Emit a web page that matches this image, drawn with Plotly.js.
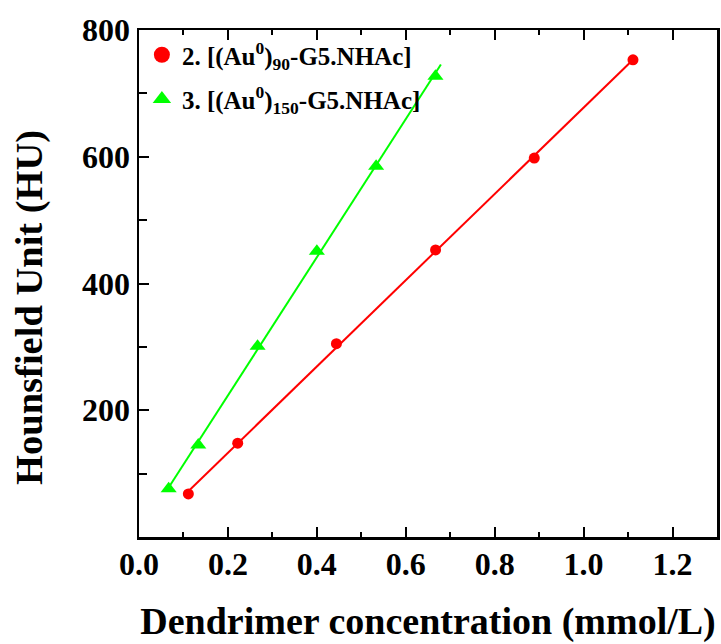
<!DOCTYPE html>
<html>
<head>
<meta charset="utf-8">
<script src="https://cdn.plot.ly/plotly-3.0.1.min.js"></script>
<style>html,body{margin:0;padding:0;background:#fff;}</style>
</head>
<body>
<div id="chart" style="width:721px;height:644px;"></div>
<script>
// Data
const seriesNames = ['2. [(Au<sup>0</sup>)<sub>90</sub>-G5.NHAc]', '3. [(Au<sup>0</sup>)<sub>150</sub>-G5.NHAc]'];
const redX = [0.111, 0.222, 0.444, 0.667, 0.889, 1.111];
const redY = [68, 148, 305, 453, 598, 753];
const greenX = [0.0667, 0.1333, 0.2667, 0.4, 0.5333, 0.6667];
const greenY = [76, 145, 301, 451, 585, 727];
const redFitRange = [0.111, 1.111];
const greenFitRange = [0.0667, 0.679];
const xTicks = [0.0, 0.2, 0.4, 0.6, 0.8, 1.0, 1.2];
const yTicks = [200, 400, 600, 800];
const xTitle = '<b>Dendrimer concentration (mmol/L)</b>';
const yTitle = '<b>Hounsfield Unit (HU)</b>';

function fit(xs, ys) {
  const n = xs.length;
  const mx = xs.reduce((a, b) => a + b, 0) / n;
  const my = ys.reduce((a, b) => a + b, 0) / n;
  let sxy = 0, sxx = 0;
  for (let i = 0; i < n; i++) { sxy += (xs[i] - mx) * (ys[i] - my); sxx += (xs[i] - mx) ** 2; }
  const b = sxy / sxx, a = my - b * mx;
  return x => a + b * x;
}
const fr = fit(redX, redY), fg = fit(greenX, greenY);

const RED = '#ff0000', GREEN = '#00ff00';
const font = '"Liberation Serif", serif';

const traces = [
  {x: redFitRange, y: redFitRange.map(fr), mode: 'lines', line: {color: RED, width: 2}, showlegend: false, hoverinfo: 'skip'},
  {x: greenFitRange, y: greenFitRange.map(fg), mode: 'lines', line: {color: GREEN, width: 2}, showlegend: false, hoverinfo: 'skip'},
  {x: redX, y: redY, mode: 'markers', marker: {color: RED, size: 11, symbol: 'circle'}, showlegend: false},
  {x: greenX, y: greenY, mode: 'markers', marker: {color: GREEN, size: 14, symbol: 'triangle-up'}, showlegend: false},
  {x: [null], y: [null], mode: 'markers', name: seriesNames[0], legend: 'legend', marker: {color: RED, size: 16, symbol: 'circle'}},
  {x: [null], y: [null], mode: 'markers', name: seriesNames[1], legend: 'legend2', marker: {color: GREEN, size: 20, symbol: 'triangle-up'}}
];

const axisCommon = {
  showgrid: false, zeroline: false, showline: true, linecolor: '#000', linewidth: 2.5,
  ticks: 'inside', ticklen: 10, tickwidth: 2, tickcolor: '#000',
  tickfont: {family: font, size: 32, color: '#000', weight: 'bold'},
  automargin: false
};

const legendCommon = {
  x: 0.005, xanchor: 'left', yanchor: 'top',
  bgcolor: 'rgba(0,0,0,0)', borderwidth: 0,
  font: {family: font, size: 25, color: '#000', weight: 'bold'},
  itemwidth: 30
};

const layout = {
  width: 721, height: 644,
  margin: {l: 139, r: 4, t: 30, b: 107},
  paper_bgcolor: '#fff', plot_bgcolor: '#fff',
  font: {family: font, color: '#000'},
  xaxis: Object.assign({}, axisCommon, {
    range: [0, 1.3], tickvals: xTicks, ticktext: xTicks.map(v => v.toFixed(1)),
    mirror: 'ticks', ticklabelstandoff: -3,
    minor: {tickvals: [0.1, 0.3, 0.5, 0.7, 0.9, 1.1], ticks: 'inside', ticklen: 5, tickwidth: 2, tickcolor: '#000'},
    title: {text: xTitle, font: {family: font, size: 38, color: '#000'}, standoff: 27}
  }),
  yaxis: Object.assign({}, axisCommon, {
    range: [0, 800], tickvals: yTicks, ticktext: yTicks.map(String),
    mirror: true,
    minor: {tickvals: [100, 300, 500, 700], ticks: 'inside', ticklen: 8, tickwidth: 2, tickcolor: '#000'}
  }),
  annotations: [{
    text: yTitle, textangle: -90, showarrow: false,
    xref: 'paper', yref: 'paper', x: -0.1905, y: 0.4536, xanchor: 'center', yanchor: 'middle',
    font: {family: font, size: 38.5, color: '#000'}
  }],
  legend: Object.assign({}, legendCommon, {y: 0.996}),
  legend2: Object.assign({}, legendCommon, {y: 0.909}),
  showlegend: true
};

Plotly.newPlot('chart', traces, layout, {displayModeBar: false, staticPlot: true});
</script>
</body>
</html>
